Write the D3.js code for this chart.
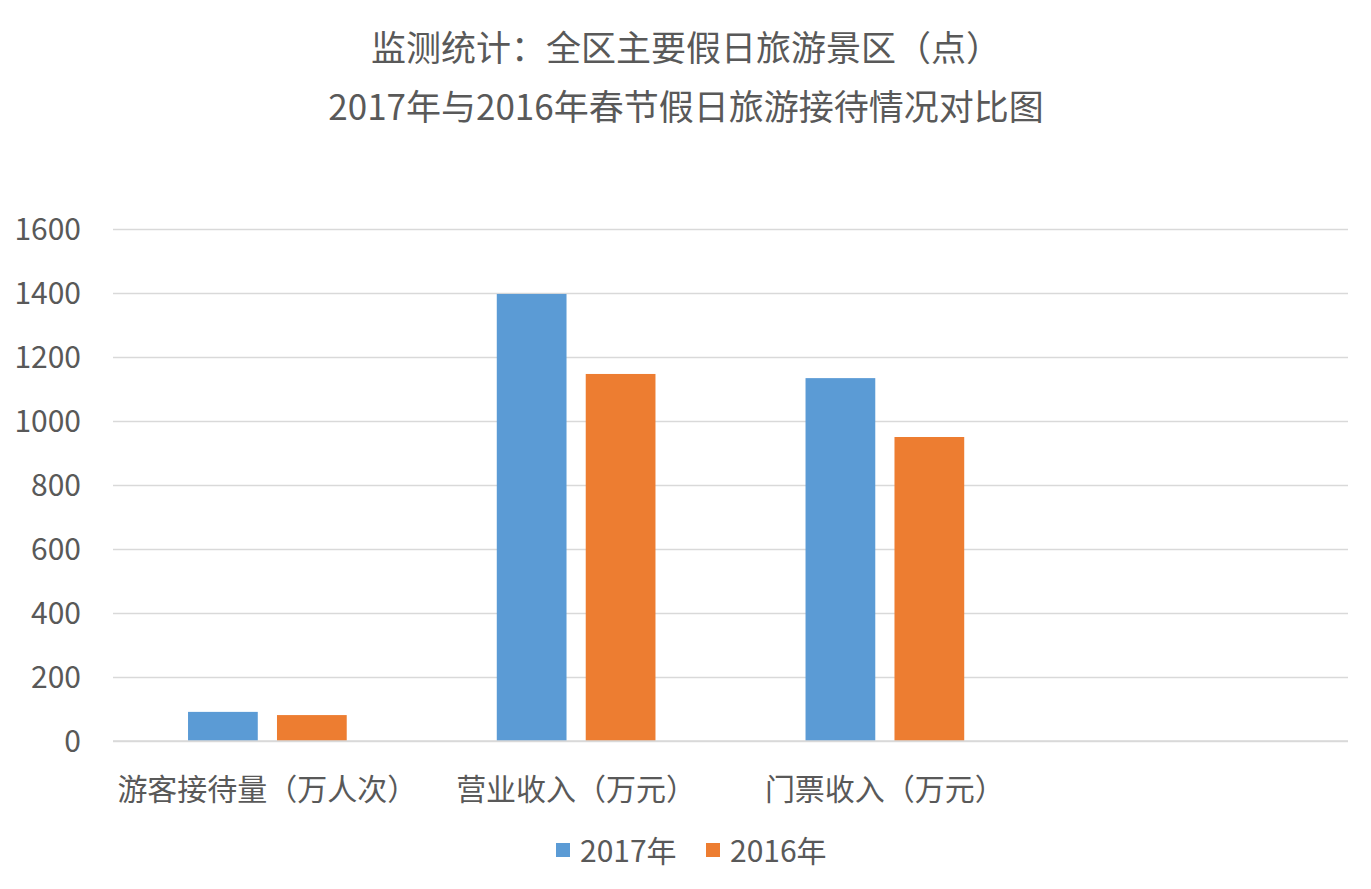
<!DOCTYPE html>
<html><head><meta charset="utf-8">
<script src="https://cdn.jsdelivr.net/npm/d3@7/dist/d3.min.js"></script>
<style>body{margin:0;background:#fff;} svg{display:block;} text{font-family:"Noto Sans CJK SC","Noto Sans",sans-serif;fill:#595959;}</style>
</head><body>
<svg id="c" width="1371" height="889"></svg>
<script>
const titleLines = ["监测统计：全区主要假日旅游景区（点）", "2017年与2016年春节假日旅游接待情况对比图"];
const categories = ["游客接待量（万人次）", "营业收入（万元）", "门票收入（万元）", ""];
const seriesNames = ["2017年", "2016年"];
const values2017 = [91, 1397, 1134, null];
const values2016 = [81, 1147, 950, null];
const yTicks = [0, 200, 400, 600, 800, 1000, 1200, 1400, 1600];
const colors = ["#5B9BD5", "#ED7D31"];

const svg = d3.select("#c");
const mLeft = 113, mRight = 1348, mTop = 229, mBottom = 741;

svg.selectAll("text.title").data(titleLines).join("text")
  .attr("class","title").attr("x", 686).attr("y", (d,i)=> 61 + i*59)
  .attr("text-anchor","middle").style("font-size","35px").text(d=>d);

const y = d3.scaleLinear().domain([0,1600]).range([mBottom, mTop]);
const x0 = d3.scaleBand().domain(d3.range(categories.length)).range([mLeft, mRight]).padding(0);
const bw = x0.bandwidth();
const x1 = d3.scaleBand().domain(seriesNames).range([bw*0.243, bw*0.757]).paddingInner(0.216).paddingOuter(0);

const yAxis = d3.axisLeft(y).tickValues(yTicks).tickSize(-(mRight-mLeft)).tickPadding(32).tickFormat(d3.format("d"));
const gy = svg.append("g").attr("transform",`translate(${mLeft},0)`).call(yAxis);
gy.select(".domain").remove();
gy.selectAll(".tick line").attr("stroke","#D9D9D9").attr("stroke-width",1.5);
gy.selectAll(".tick text").style("font-size","30px").attr("fill","#595959").attr("dy","0.35em");

const data = [values2017, values2016];
seriesNames.forEach((s, si) => {
  svg.append("g").selectAll("rect").data(data[si].map((v,i)=>({v,i})).filter(d=>d.v!=null)).join("rect")
    .attr("x", d => x0(d.i) + x1(s))
    .attr("width", x1.bandwidth())
    .attr("y", d => y(d.v))
    .attr("height", d => y(0) - y(d.v))
    .attr("fill", colors[si]);
});

svg.append("line").attr("x1",mLeft).attr("x2",mRight).attr("y1",y(0)).attr("y2",y(0))
  .attr("stroke","#D9D9D9").attr("stroke-width",1.5);

const xAxis = d3.axisBottom(x0).tickSize(0).tickPadding(0).tickFormat(i=>categories[i]);
const gx = svg.append("g").attr("transform",`translate(0,${mBottom})`).call(xAxis);
gx.select(".domain").remove();
gx.selectAll(".tick text").style("font-size","30px").attr("fill","#595959").attr("y",59).attr("dy",0);

const legendX = [556, 706];
const lg = svg.append("g");
seriesNames.forEach((s, i) => {
  lg.append("rect").attr("x", legendX[i]).attr("y", 843).attr("width",14).attr("height",14).attr("fill",colors[i]);
  lg.append("text").attr("x", legendX[i]+24).attr("y", 862).style("font-size","30px").text(s);
});
</script>
</body></html>
